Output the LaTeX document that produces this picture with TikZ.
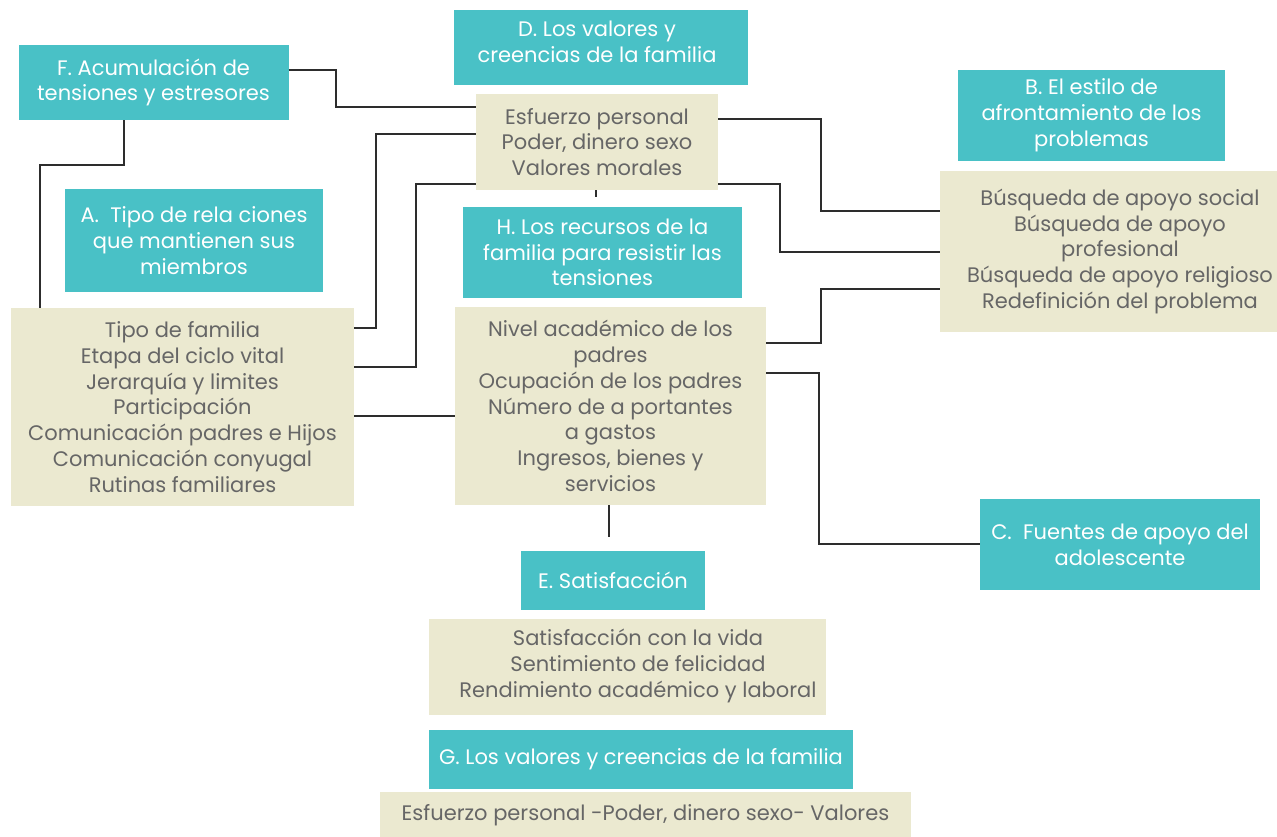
\documentclass[tikz,border=0pt]{standalone}
\usepackage{fontspec}
\setmainfont{Poppins}
\definecolor{teal1}{RGB}{73,193,198}
\definecolor{beige1}{RGB}{235,233,208}
\definecolor{txtgray}{RGB}{102,102,102}
\definecolor{linegray}{RGB}{45,45,45}
\begin{document}
\begin{tikzpicture}[x=1pt,y=-1pt,
  tbox/.style={fill=teal1, text=white, align=center, inner sep=0pt, font=\fontsize{21}{25.8}\selectfont},
  bbox/.style={fill=beige1, text=txtgray, align=center, inner sep=0pt, font=\fontsize{21}{25.8}\selectfont},
  ttext/.style={text=white, align=center, inner sep=0pt, font=\fontsize{21}{25.8}\selectfont},
  btext/.style={text=txtgray, align=center, inner sep=0pt, font=\fontsize{21}{25.8}\selectfont},
  conn/.style={draw=linegray, line width=1.6pt}]
\useasboundingbox (0,0) rectangle (1277,837);
% teal boxes
\node[tbox, minimum width=294, minimum height=75] (D) at (601,47.5) {};
\node[ttext] (Dt) at (597,42) {D. Los valores y\\creencias de la familia};
\node[tbox, minimum width=270, minimum height=75] (F) at (153.5,82.5) {F. Acumulación de\\tensiones y estresores};
\node[tbox, minimum width=267, minimum height=91] (B) at (1091.5,115.5) {B. El estilo de\\afrontamiento de los\\problemas};
\node[tbox, minimum width=258, minimum height=103] (A) at (194,240.5) {A.\ \ Tipo de rela ciones\\que mantienen sus\\miembros};
\node[tbox, minimum width=279, minimum height=91] (H) at (602.5,252.5) {H. Los recursos de la\\familia para resistir las\\tensiones};
\node[tbox, minimum width=280, minimum height=91] (C) at (1120,544.5) {C.\ \ Fuentes de apoyo del\\adolescente};
\node[tbox, minimum width=184, minimum height=59] (E) at (613,580.5) {E. Satisfacción};
\node[tbox, minimum width=424, minimum height=59] (G) at (641,759.5) {G. Los valores y creencias de la familia};
% beige boxes
\node[bbox, minimum width=242, minimum height=96] (Esf) at (597,142) {Esfuerzo personal\\Poder, dinero sexo\\Valores morales};
\node[bbox, minimum width=360, minimum height=161] (Busq) at (1120,251.5) {Búsqueda de apoyo social\\Búsqueda de apoyo\\profesional\\Búsqueda de apoyo religioso\\Redefinición del problema};
\node[bbox, minimum width=343, minimum height=198] (Tipo) at (182.5,407) {Tipo de familia\\Etapa del ciclo vital\\Jerarquía y limites\\Participación\\Comunicación padres e Hijos\\Comunicación conyugal\\Rutinas familiares};
\node[bbox, minimum width=311, minimum height=198] (Niv) at (610.5,406) {Nivel académico de los\\padres\\Ocupación de los padres\\Número de a portantes\\a gastos\\Ingresos, bienes y\\servicios};
\node[bbox, minimum width=397, minimum height=96] (Sat) at (627.5,667) {};
\node[btext] (Satt) at (638,666) {Satisfacción con la vida\\Sentimiento de felicidad\\Rendimiento académico y laboral};
\node[bbox, minimum width=531, minimum height=46] (Gb) at (645.5,815) {Esfuerzo personal -Poder, dinero sexo- Valores};
% connectors
\draw[conn] (F.east |- 0,70) -| (336,107) -- (Esf.west |- 0,107);
\draw[conn] (F.south -| 124,0) |- (40,165) -- (Tipo.north -| 40,0);
\draw[conn] (Esf.west |- 0,134) -| (376,328) -- (Tipo.east |- 0,328);
\draw[conn] (Esf.west |- 0,184) -| (416,367) -- (Tipo.east |- 0,367);
\draw[conn] (Tipo.east |- 0,416) -- (Niv.west |- 0,416);
\draw[conn] (Esf.east |- 0,119) -| (821,211) -- (Busq.west |- 0,211);
\draw[conn] (Esf.east |- 0,184) -| (780,252) -- (Busq.west |- 0,252);
\draw[conn] (Niv.east |- 0,343) -| (821,289) -- (Busq.west |- 0,289);
\draw[conn] (Niv.east |- 0,373) -| (819,544) -- (C.west |- 0,544);
\draw[conn] (Esf.south -| 596,0) -- ++(0,7);
\draw[conn] (Niv.south -| 609,0) -- ++(0,32);
\end{tikzpicture}
\end{document}
